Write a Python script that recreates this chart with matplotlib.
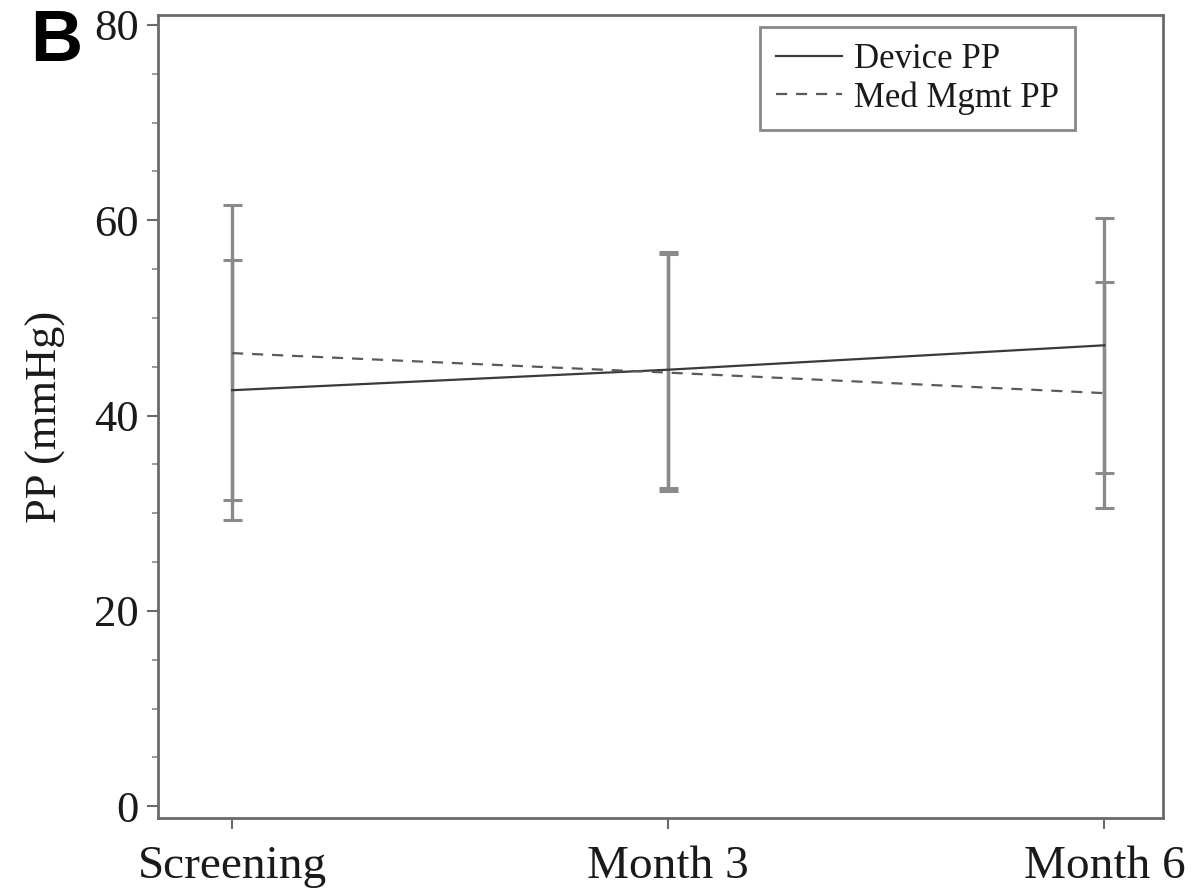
import matplotlib
matplotlib.use("Agg")
import matplotlib.pyplot as plt
import numpy as np
from matplotlib.ticker import MultipleLocator

# data
visits = ["Screening", "Month 3", "Month 6"]
device_mean = [42.6, 44.7, 47.2]
device_low = [29.3, 32.6, 34.1]
device_high = [55.9, 56.8, 60.2]
med_mean = [46.4, 44.4, 42.3]
med_low = [31.4, 32.3, 30.5]
med_high = [61.6, 56.5, 53.7]

plt.rcParams["font.family"] = ["Liberation Serif", "DejaVu Serif"]

fig = plt.figure(figsize=(12.04, 8.93), dpi=100)
ax = fig.add_axes([0.1312, 0.084, 0.835, 0.899])

x = np.arange(len(visits))
bar_col = "#8a8a8a"

# error bars first so the mean lines sit on top
for lo, hi in [(device_low, device_high), (med_low, med_high)]:
    ax.vlines(x, lo, hi, color=bar_col, lw=2.4, zorder=1)
    ax.hlines(lo, x - 0.022, x + 0.022, color=bar_col, lw=2.2, zorder=1)
    ax.hlines(hi, x - 0.022, x + 0.022, color=bar_col, lw=2.2, zorder=1)

ax.plot(x, device_mean, color="#3a3a3a", lw=1.6, ls="-", label="Device PP", zorder=3)
ax.plot(x, med_mean, color="#5a5a5a", lw=1.6, ls=(0, (5, 4)), label="Med Mgmt PP", zorder=3)

ax.set_xlim(-0.17, 2.135)
ax.set_ylim(-1.2, 81)
ax.set_xticks(x)
ax.set_xticklabels(visits)
ax.set_yticks([0, 20, 40, 60, 80])
ax.yaxis.set_minor_locator(MultipleLocator(5))

for s in ax.spines.values():
    s.set_color("#6a6a6a")
    s.set_linewidth(2)

ax.tick_params(axis="both", which="major", labelsize=32, length=8, width=1.5,
               color="#6a6a6a", labelcolor="#1a1a1a", pad=6)
ax.tick_params(axis="x", which="major", labelsize=34, pad=12)
ax.tick_params(axis="y", which="minor", length=4, width=1.2, color="#8a8a8a")

ax.set_ylabel("PP (mmHg)", fontsize=32, color="#1a1a1a", labelpad=20)

leg = ax.legend(loc="upper right", bbox_to_anchor=(0.912, 0.985), fontsize=25,
                frameon=True, fancybox=False, handlelength=1.9, handletextpad=0.35,
                borderpad=0.45, labelspacing=0.15, borderaxespad=0)
leg.get_frame().set_edgecolor("#6a6a6a")
leg.get_frame().set_linewidth(2)
for t in leg.get_texts():
    t.set_color("#1a1a1a")

fig.text(0.025, 0.932, "B", fontsize=52, fontweight="bold",
         family=["Liberation Sans", "DejaVu Sans"], color="black")

fig.savefig("out.png", dpi=100)
